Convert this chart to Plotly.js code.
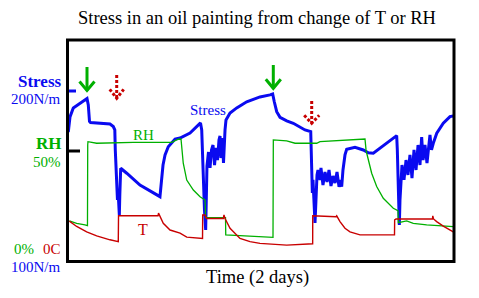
<!DOCTYPE html>
<html><head><meta charset="utf-8">
<script src="https://cdn.plot.ly/plotly-3.0.1.min.js"></script>
<style>html,body{margin:0;padding:0;background:#fff}#chart{width:479px;height:298px}</style>
</head><body><div id="chart"></div>
<script>
// Time in hours (2 days)
const stressTime = [0.16,0.37,0.78,1.61,2.48,2.64,2.79,2.92,5.33,5.74,5.93,5.99,6.08,6.16,6.26,6.33,6.49,6.55,6.66,7.41,9.05,11.53,11.75,11.91,12.16,12.56,13.40,14.02,15.26,16.56,16.71,16.81,16.93,17.05,17.20,17.28,17.36,17.55,17.74,17.92,18.11,18.30,18.48,18.67,18.85,18.98,19.10,19.29,19.41,19.60,19.72,20.22,21.05,22.29,23.94,25.18,25.51,25.71,26.01,26.42,27.25,28.07,28.90,29.52,30.23,30.29,30.36,30.43,30.51,30.64,30.76,30.88,31.01,31.13,31.38,31.50,31.75,32.00,32.25,32.50,32.74,32.99,33.24,33.49,33.74,33.98,34.07,34.23,34.48,34.69,35.72,36.75,37.37,37.99,38.82,39.85,40.89,40.97,41.05,41.14,41.22,41.30,41.43,41.55,41.80,42.05,42.29,42.54,42.79,43.04,43.29,43.54,43.78,43.99,44.16,44.40,44.65,44.90,45.02,45.21,45.43,45.86,46.67,47.50,47.91];
// Stress, N/m
const stressValues = [176.0,184.8,190.1,193.0,195.6,191.8,182.2,181.5,180.7,179.2,177.2,165.5,150.9,146.2,136.3,142.1,127.5,139.2,154.8,151.9,145.0,138.2,148.0,156.7,162.6,167.4,171.9,172.5,175.4,181.3,177.2,159.6,142.1,130.4,118.7,136.3,156.1,164.3,155.0,165.5,168.4,156.7,166.7,159.6,171.3,173.7,160.8,172.5,157.9,177.2,183.0,187.1,190.1,193.7,196.5,197.7,198.2,193.7,187.9,184.6,182.5,181.1,178.8,177.2,176.2,168.4,153.8,140.4,148.0,133.3,122.8,136.3,150.9,153.8,148.0,155.0,145.0,152.6,146.8,153.8,144.4,150.3,146.2,152.6,143.9,148.0,144.0,153.8,162.6,165.9,167.1,165.5,163.9,163.6,166.5,170.4,173.9,165.5,150.9,136.3,121.6,136.3,148.0,156.7,148.0,159.6,150.9,162.6,149.1,165.5,153.8,168.4,156.7,173.1,159.6,168.4,157.9,171.3,174.3,165.5,169.4,175.3,181.1,185.0,185.4];
// Relative humidity, %
const rhTime = [0.29,1.20,2.23,2.54,2.57,2.60,3.68,8.22,12.99,13.80,14.14,14.23,14.42,14.85,15.67,16.50,17.12,17.20,19.66,19.69,25.55,25.59,27.25,28.28,30.97,31.38,34.69,36.96,37.09,37.17,37.79,38.41,39.23,40.47,41.05,41.09,42.13,42.95,44.61,47.91];
const rhValues = [18.5,17.4,16.7,16.4,52.7,54.2,53.5,53.9,53.9,55.3,55.4,50.5,44.5,36.9,32.4,29.4,27.9,20.0,20.0,12.2,11.1,55.0,54.6,53.5,53.5,54.2,55.0,55.4,50.5,49.1,40.0,34.0,28.7,24.2,23.1,17.7,18.5,17.4,16.7,15.9];
// Temperature, C
const tTime = [0.29,1.20,2.44,3.68,5.33,6.16,6.36,6.39,11.29,11.35,11.53,11.94,12.78,14.02,14.85,16.50,16.81,16.83,17.12,17.33,19.39,19.47,19.60,20.22,21.46,22.70,23.94,27.25,30.35,30.47,30.48,33.36,33.45,33.55,33.86,34.48,35.10,36.34,40.62,40.64,40.81,45.33,45.37,45.46,45.85,46.67,47.91];
const tValues = [9.2,8.0,6.8,5.9,5.0,4.6,4.6,10.4,10.4,11.0,10.4,8.7,7.2,6.5,5.6,5.3,5.3,10.6,10.6,9.8,9.8,10.6,9.8,7.6,5.3,4.6,4.2,3.8,4.0,4.1,10.4,10.2,10.4,10.1,9.1,7.6,6.8,6.1,6.1,9.5,9.7,9.7,10.4,9.7,9.1,8.1,6.8];

const BLUE = '#0a0af0', GREEN = '#00b000', RED = '#c80000';
const SERIF = '"Liberation Serif", "Times New Roman", serif';

// plot area in page pixels
const PL = 67, PR = 454, PT = 40, PB = 262;
const px = x => (x - PL) / (PR - PL);
const py = y => (PB - y) / (PB - PT);

function arrowShapes(x, yTop, yTip, half, headH, color, dash) {
  const line = {color: color, width: 3, dash: dash};
  return [
    {type:'line', xref:'paper', yref:'paper', x0:px(x), x1:px(x), y0:py(yTop), y1:py(yTip), line: line},
    {type:'path', xref:'paper', yref:'paper',
     path: 'M' + px(x-half) + ',' + py(yTip-headH) + ' L' + px(x) + ',' + py(yTip) + ' L' + px(x+half) + ',' + py(yTip-headH),
     line: line}
  ];
}

const traces = [
  {x: rhTime, y: rhValues, yaxis:'y2', mode:'lines', line:{color:GREEN, width:1.3}, hoverinfo:'skip'},
  {x: tTime, y: tValues, yaxis:'y3', mode:'lines', line:{color:RED, width:1.4}, hoverinfo:'skip'},
  {x: stressTime, y: stressValues, yaxis:'y', mode:'lines', line:{color:BLUE, width:3}, hoverinfo:'skip'}
];

function ann(text, x, y, size, color, anchor, bold) {
  return {text: bold ? '<b>' + text + '</b>' : text, xref:'paper', yref:'paper', x:px(x), y:py(y),
    xanchor: anchor, yanchor:'middle', showarrow:false, font:{family:SERIF, size:size, color:color}};
}

const layout = {
  width: 479, height: 298,
  margin: {l: PL, r: 479 - PR, t: PT, b: 298 - PB, pad: 0},
  paper_bgcolor:'#fff', plot_bgcolor:'#fff',
  showlegend:false,
  title: {text:'Stress in an oil painting from change of T or RH', font:{family:SERIF, size:18.5, color:'#000'},
          x: 257/479, xanchor:'center', y: 1 - 18/298, yanchor:'middle'},
  xaxis: {range:[0,48], visible:false, fixedrange:true},
  yaxis: {range:[100, 229.8], visible:false},
  yaxis2: {range:[0,100], overlaying:'y', visible:false},
  yaxis3: {range:[0,50], overlaying:'y', visible:false},
  annotations: [
    ann('Stress', 64, 81, 17, BLUE, 'right', true),
    ann('200N/m', 63, 99, 15, BLUE, 'right', false),
    ann('RH', 64, 143.5, 17, GREEN, 'right', true),
    ann('50%', 63, 161.5, 15, GREEN, 'right', false),
    ann('0%', 36, 249, 15, GREEN, 'right', false),
    ann('0C', 63, 249, 15, RED, 'right', false),
    ann('100N/m', 63, 266.5, 15, BLUE, 'right', false),
    ann('Stress', 207.5, 110, 15, BLUE, 'center', false),
    ann('RH', 143.5, 134.5, 15, GREEN, 'center', false),
    ann('T', 143, 229, 16, RED, 'center', false),
    ann('Time (2 days)', 257.5, 277, 18.5, '#000', 'center', false)
  ],
  shapes: [
    {type:'line', xref:'paper', yref:'paper', x0:px(68), x1:px(76), y0:py(91), y1:py(91), line:{color:BLUE, width:3}},
    {type:'line', xref:'paper', yref:'paper', x0:px(68), x1:px(80), y0:py(151), y1:py(151), line:{color:'#000', width:3}},
    {type:'rect', xref:'paper', yref:'paper', x0:px(67.5), x1:px(454), y0:py(261.5), y1:py(40), line:{color:'#000', width:3}, layer:'above'}
  ]
    .concat(arrowShapes(87, 67, 90.5, 7.5, 9, GREEN, 'solid'))
    .concat(arrowShapes(273.3, 65, 88.3, 7.5, 9, GREEN, 'solid'))
    .concat(arrowShapes(116.7, 75, 98.3, 7, 9, RED, '3px,2px'))
    .concat(arrowShapes(311.7, 101, 123.3, 7.5, 8, RED, '3px,2px'))
};

Plotly.newPlot('chart', traces, layout, {staticPlot:true, displayModeBar:false});
</script>
</body></html>
